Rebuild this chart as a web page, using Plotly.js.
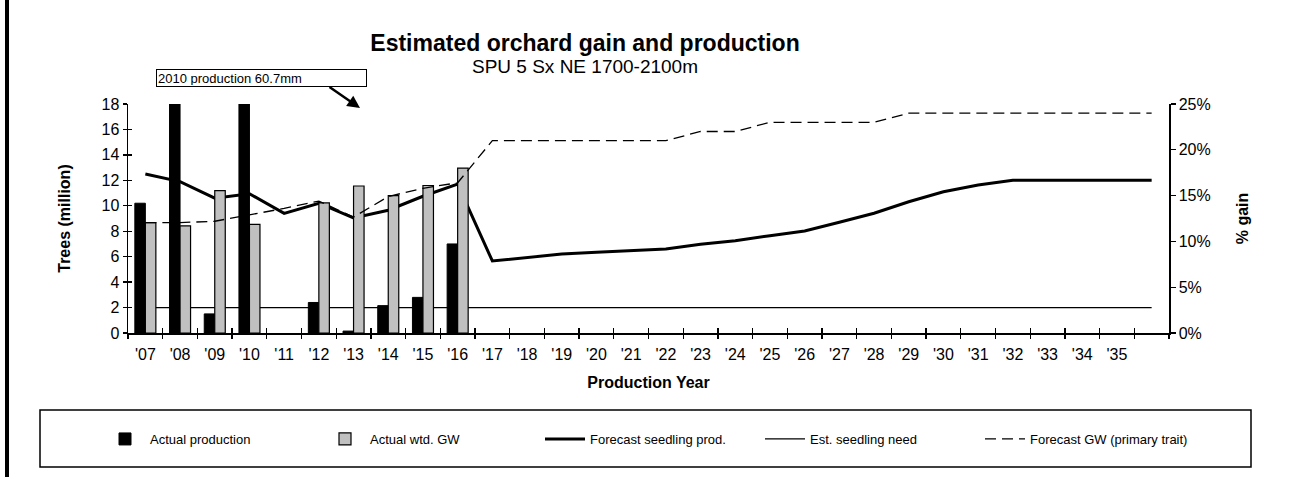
<!DOCTYPE html>
<html>
<head>
<meta charset="utf-8">
<script src="https://cdn.plot.ly/plotly-3.0.1.min.js"></script>
<style>html,body{margin:0;padding:0;background:#fff;}#chart{width:1315px;height:477px;}</style>
</head>
<body>
<div id="chart"></div>
<script>
// Categories (production years); the last one carries data but no visible label
var years = ["'07","'08","'09","'10","'11","'12","'13","'14","'15","'16","'17","'18","'19","'20","'21","'22","'23","'24","'25","'26","'27","'28","'29","'30","'31","'32","'33","'34","'35","'36"];
var tickLabels = ["'07","'08","'09","'10","'11","'12","'13","'14","'15","'16","'17","'18","'19","'20","'21","'22","'23","'24","'25","'26","'27","'28","'29","'30","'31","'32","'33","'34","'35"];

// Actual production (trees, million) - '08 and '10 run off the chart
var actualProduction = [10.2, 22, 1.5, 60.7, null, 2.4, 0.15, 2.15, 2.8, 7.0];
// Actual weighted genetic worth (% gain)
var actualWtdGW = [12.05, 11.7, 15.55, 11.85, null, 14.2, 16.05, 15.0, 16.1, 18.0];
// Forecast seedling production (trees, million)
var forecastSeedling = [12.5, 11.9, 10.6, 10.95, 9.4, 10.2, 9.05, 9.65, 10.75, 11.7, 5.66, 5.95, 6.2, 6.34, 6.47, 6.6, 6.97, 7.26, 7.65, 8.02, 8.7, 9.41, 10.32, 11.1, 11.63, 12, 12, 12, 12, 12];
// Estimated seedling need (trees, million)
var seedlingNeed = [2,2,2,2,2,2,2,2,2,2,2,2,2,2,2,2,2,2,2,2,2,2,2,2,2,2,2,2,2,2];
// Forecast GW, primary trait (% gain)
var forecastGW = [12.05, 12.05, 12.2, 12.9, 13.6, 14.4, 12.65, 14.9, 15.8, 16.4, 21, 21, 21, 21, 21, 21, 22, 22, 23, 23, 23, 23, 24, 24, 24, 24, 24, 24, 24, 24];

var leftTicks = [0,2,4,6,8,10,12,14,16,18];
var boundaries = years.map(function(_, i){ return i - 0.5; }).concat([years.length - 0.5]);

var FONT = 'Liberation Sans, Arial, Helvetica, sans-serif';

var traces = [
  {type:'bar', name:'Actual production', x: years.slice(0, actualProduction.length), y: actualProduction,
   xaxis:'x', yaxis:'y', width:0.303, offset:-0.303,
   marker:{color:'#000000', line:{color:'#000000', width:1}}, hoverinfo:'skip'},
  {type:'bar', name:'Actual wtd. GW', x: years.slice(0, actualWtdGW.length), y: actualWtdGW,
   xaxis:'x', yaxis:'y2', width:0.303, offset:0,
   marker:{color:'#c0c0c0', line:{color:'#000000', width:1.2}}, hoverinfo:'skip'},
  {type:'scatter', mode:'lines', name:'Forecast seedling prod.', x: years, y: forecastSeedling,
   xaxis:'x', yaxis:'y', line:{color:'#000000', width:3}, hoverinfo:'skip'},
  {type:'scatter', mode:'lines', name:'Est. seedling need', x: years, y: seedlingNeed,
   xaxis:'x', yaxis:'y', line:{color:'#000000', width:1.3}, hoverinfo:'skip'},
  {type:'scatter', mode:'lines', name:'Forecast GW (primary trait)', x: years, y: forecastGW,
   xaxis:'x', yaxis:'y2', line:{color:'#000000', width:1.3, dash:'11px,6px'}, hoverinfo:'skip'},
  // carriers for the tick-only overlay axes (draw nothing)
  {type:'scatter', mode:'markers', x:[0], y:[0], xaxis:'x2', yaxis:'y', marker:{opacity:0}, showlegend:false, hoverinfo:'skip'},
  {type:'scatter', mode:'markers', x:[0], y:[0], xaxis:'x3', yaxis:'y', marker:{opacity:0}, showlegend:false, hoverinfo:'skip'},
  {type:'scatter', mode:'markers', x:[years[0]], y:[0], xaxis:'x', yaxis:'y3', marker:{opacity:0}, showlegend:false, hoverinfo:'skip'}
];

var W = 1315, H = 477, L = 128, R = 1169, T = 104, B = 333;
function px(xp){ return (xp - L) / (R - L); }
function py(yp){ return (B - yp) / (B - T); }

var layout = {
  width: W, height: H,
  margin: {l: L, r: W - R, t: T, b: H - B, pad: 0},
  paper_bgcolor:'#ffffff', plot_bgcolor:'#ffffff',
  font: {family: FONT, color:'#000000', size: 16},
  barmode: 'overlay',
  showlegend: true,
  title: {text: '<b>Estimated orchard gain and production</b>', font:{size: 23, family: FONT, color:'#000'},
          x: 585 / W, xanchor: 'center', y: 1 - 43 / H, yanchor: 'middle'},
  xaxis: {type:'category', categoryorder:'array', categoryarray: years, range:[-0.5, years.length - 0.5],
          tickmode:'array', tickvals: tickLabels, ticktext: tickLabels, ticks:'', ticklabelstandoff: 6,
          showline:true, linecolor:'#000', linewidth:1.5, showgrid:false, zeroline:false,
          tickfont:{size:16, family: FONT, color:'#000'},
          title:{text:'<b>Production Year</b>', font:{size:16, family: FONT}, standoff: 15}},
  xaxis2: {overlaying:'x', anchor:'y', range:[-0.5, years.length - 0.5], tickmode:'array', tickvals: boundaries,
           ticks:'outside', ticklen:5, tickwidth:1.3, tickcolor:'#000', showticklabels:false,
           showline:false, showgrid:false, zeroline:false, fixedrange:true},
  xaxis3: {overlaying:'x', anchor:'y', range:[-0.5, years.length - 0.5], tickmode:'array', tickvals: boundaries,
           ticks:'inside', ticklen:5, tickwidth:1.3, tickcolor:'#000', showticklabels:false,
           showline:false, showgrid:false, zeroline:false, fixedrange:true},
  yaxis: {range:[0, 18], tickmode:'array', tickvals: leftTicks, ticks:'outside', ticklen:4, tickwidth:1.3, tickcolor:'#000',
          showline:true, linecolor:'#000', linewidth:1.5, showgrid:false, zeroline:false,
          tickfont:{size:16, family: FONT, color:'#000'},
          title:{text:'<b>Trees (million)</b>', font:{size:16, family: FONT}, standoff: 27}},
  yaxis3: {overlaying:'y', anchor:'x', side:'left', range:[0, 18], tickmode:'array', tickvals: leftTicks,
           ticks:'inside', ticklen:4, tickwidth:1.3, tickcolor:'#000', showticklabels:false,
           showline:false, showgrid:false, zeroline:false},
  yaxis2: {overlaying:'y', anchor:'x', side:'right', range:[0, 25], dtick:5, tick0:0, ticksuffix:'%',
           ticks:'outside', ticklen:5, tickwidth:1.3, tickcolor:'#000',
           showline:true, linecolor:'#000', linewidth:1.5, showgrid:false, zeroline:false,
           tickfont:{size:16, family: FONT, color:'#000'},
           title:{text:'<b>% gain</b>', font:{size:16, family: FONT}, standoff: 27}},
  legend: {orientation:'h', x: px(100), xanchor:'left', y: py(439), yanchor:'middle',
           font:{size:13, family: FONT, color:'#000'}, entrywidth: 165, entrywidthmode:'pixels',
           itemwidth: 40, bgcolor:'rgba(0,0,0,0)', borderwidth:0, traceorder:'normal'},
  shapes: [
    {type:'rect', xref:'paper', yref:'paper', x0: px(40), x1: px(1251), y0: py(467), y1: py(410),
     line:{color:'#000', width:1.5}, fillcolor:'rgba(0,0,0,0)', layer:'below'},
    {type:'line', xref:'paper', yref:'paper', x0: px(7), x1: px(7), y0: py(0), y1: py(477),
     line:{color:'#000', width:4}}
  ],
  annotations: [
    {text:'SPU 5 Sx NE 1700-2100m', xref:'paper', yref:'paper', x: px(585), y: py(66), xanchor:'center', yanchor:'middle',
     showarrow:false, font:{size:19, family: FONT, color:'#000'}},
    {text:'2010 production 60.7mm', xref:'paper', yref:'paper', x: px(156), y: py(78), xanchor:'left', yanchor:'middle',
     showarrow:false, align:'left', width: 207, height: 14, borderpad:1, bordercolor:'#000', borderwidth:1, bgcolor:'#fff',
     font:{size:13, family: FONT, color:'#000'}},
    {text:'', xref:'paper', yref:'paper', x: px(360), y: py(108), ax: -32, ay: -22, axref:'pixel', ayref:'pixel',
     showarrow:true, arrowhead:2, arrowsize:1, arrowwidth:2.5, arrowcolor:'#000'}
  ]
};

Plotly.newPlot('chart', traces, layout, {displayModeBar:false, staticPlot:true});
</script>
</body>
</html>
